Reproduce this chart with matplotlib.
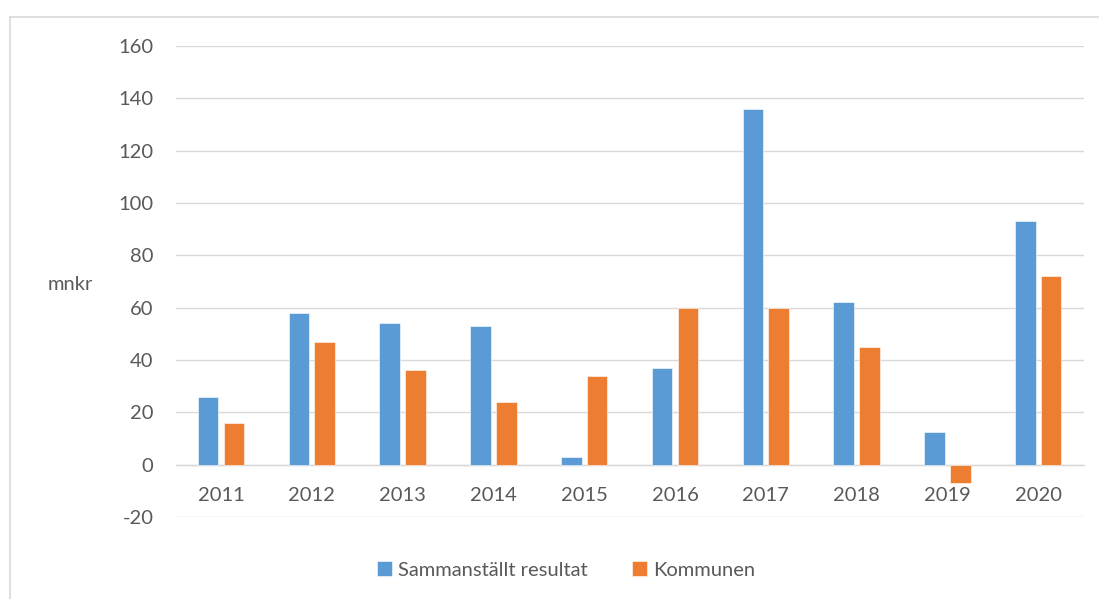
import numpy as np
import matplotlib.pyplot as plt
from matplotlib.lines import Line2D

years = ["2011", "2012", "2013", "2014", "2015", "2016", "2017", "2018", "2019", "2020"]
sammanstallt = [26, 58, 54, 53, 3, 37, 136, 62, 12.5, 93]
kommunen = [16, 47, 36, 24, 34, 60, 60, 45, -7, 72]
yticks = [-20, 0, 20, 40, 60, 80, 100, 120, 140, 160]

blue = "#5B9BD5"
orange = "#ED7D31"
grid = "#D9D9D9"
txt = "#595959"
fs = 14.5

plt.rcParams['font.family'] = ['Lato', 'DejaVu Sans']

fig = plt.figure(figsize=(10.99, 5.99), dpi=100)
ax = fig.add_axes([0.1598, 0.1369, 0.8262, 0.7863])

x = np.arange(len(years))
w = 0.228
off = 0.142
ax.bar(x - off, sammanstallt, w, color=blue, edgecolor="white", linewidth=0.4,
       label="Sammanställt resultat", zorder=3)
ax.bar(x + off, kommunen, w, color=orange, edgecolor="white", linewidth=0.4,
       label="Kommunen", zorder=3)

ax.set_xlim(-0.5, len(years) - 0.5)
ax.set_ylim(-20, 160)
ax.set_yticks(yticks)
ax.set_yticklabels([str(v) for v in yticks])
ax.set_xticks(x)
ax.set_xticklabels(years)
ax.yaxis.grid(True, color=grid, linewidth=1.0, zorder=0)
ax.set_axisbelow(True)

for s in ["top", "right", "left"]:
    ax.spines[s].set_visible(False)
ax.spines["bottom"].set_position(("data", 0))
ax.spines["bottom"].set_color(grid)
ax.spines["bottom"].set_linewidth(1.0)

ax.tick_params(axis="y", length=0, pad=16, labelsize=fs, labelcolor=txt)
ax.tick_params(axis="x", length=0, pad=16, labelsize=fs, labelcolor=txt)

fig.text(70 / 1099, 1 - 284 / 599, "mnkr", ha="center", va="center",
         fontsize=fs, color=txt)

# outer chart border (top and left visible)
fig.add_artist(Line2D([10 / 1099, 10 / 1099], [0, 1 - 17 / 599], color=grid, linewidth=1.2))
fig.add_artist(Line2D([10 / 1099, 1], [1 - 17 / 599, 1 - 17 / 599], color=grid, linewidth=1.2))

fig.legend(loc="center", bbox_to_anchor=(566 / 1099, 1 - 570 / 599), ncol=2,
           frameon=False, fontsize=fs, labelcolor=txt, handlelength=0.75,
           handleheight=0.75, handletextpad=0.3, columnspacing=2.2)

fig.savefig("out.png", dpi=100)
